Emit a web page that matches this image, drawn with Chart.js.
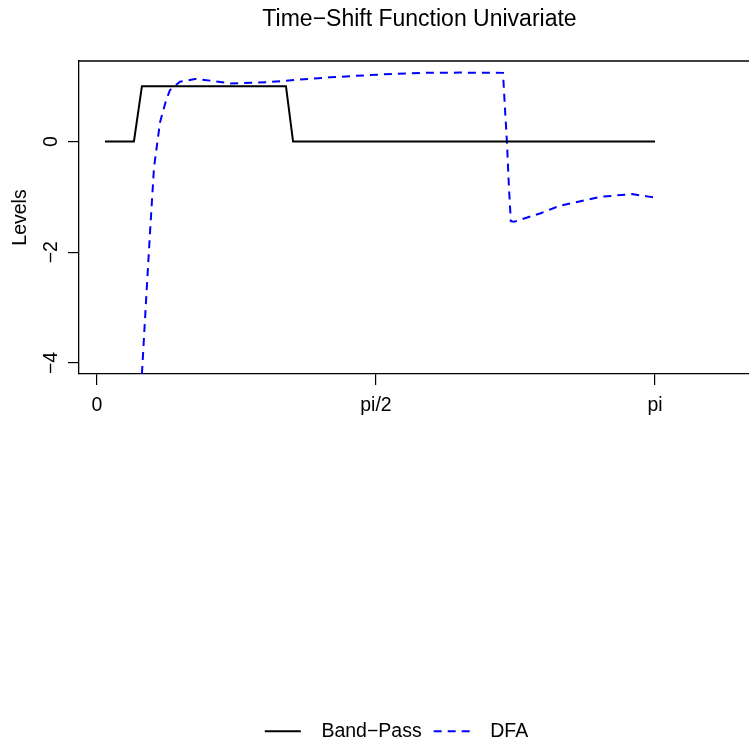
<!DOCTYPE html>
<html>
<head>
<meta charset="utf-8">
<script src="https://cdn.jsdelivr.net/npm/chart.js@4.4.1/dist/chart.umd.min.js"></script>
<style>
  html, body { margin: 0; padding: 0; background: #fff; }
  #wrap { width: 749px; height: 744px; position: relative; }
</style>
</head>
<body>
<div id="wrap"><canvas id="tsChart" width="749" height="744"></canvas></div>
<script>
// frequencies in radians
var bandFreq = [0.045, 0.208, 0.253, 1.064, 1.104, 3.142];
var bandPass = [0, 0, 1, 1, 0, 0];

var dfaFreq = [0.253, 0.276, 0.298, 0.321, 0.355, 0.389, 0.411, 0.467, 0.552, 0.636,
  0.749, 0.861, 0.957, 1.143, 1.312, 1.593, 1.819, 2.044, 2.286, 2.297,
  2.308, 2.319, 2.330, 2.348, 2.494, 2.607, 2.832, 3.012, 3.114, 3.142];
var dfaLevels = [-4.2, -2.89, -1.67, -0.47, 0.35, 0.745, 0.93, 1.08, 1.13, 1.10,
  1.05, 1.06, 1.07, 1.12, 1.16, 1.21, 1.24, 1.245, 1.24, 0.6,
  0, -0.8, -1.44, -1.45, -1.3, -1.16, -1.0, -0.95, -1.0, -1.01];

var xTicks = [0, Math.PI / 2, Math.PI];
var xTickLabels = ["0", "pi/2", "pi"];
var yTicks = [0, -2, -4];

var FONT = "'Liberation Sans', Arial, sans-serif";

function pts(xs, ys) {
  return xs.map(function (x, i) { return { x: x, y: ys[i] }; });
}

// R-style pieces: top border, rotated y labels, main title
var rDecor = {
  id: "rDecor",
  afterDraw: function (chart) {
    var ctx = chart.ctx;
    var area = chart.chartArea;
    var y = chart.scales.y;
    ctx.save();
    ctx.strokeStyle = "#000";
    ctx.lineWidth = 1.3;
    ctx.beginPath();
    ctx.moveTo(area.left, area.top);
    ctx.lineTo(area.right, area.top);
    ctx.stroke();

    ctx.fillStyle = "#000";
    ctx.font = "19.5px " + FONT;
    ctx.textAlign = "center";
    ctx.textBaseline = "middle";
    yTicks.forEach(function (v) {
      var py = y.getPixelForValue(v);
      ctx.save();
      ctx.translate(52, py);
      ctx.rotate(-Math.PI / 2);
      ctx.fillText(v < 0 ? "\u2212" + Math.abs(v) : String(v), 0, 0);
      ctx.restore();
    });

    ctx.save();
    ctx.translate(21, (area.top + area.bottom) / 2);
    ctx.rotate(-Math.PI / 2);
    ctx.fillText("Levels", 0, 0);
    ctx.restore();

    ctx.font = "23px " + FONT;
    ctx.fillText("Time\u2212Shift Function Univariate", 419.5, 20);
    ctx.restore();
  }
};

new Chart(document.getElementById("tsChart"), {
  type: "line",
  data: {
    datasets: [
      {
        label: "Band\u2212Pass",
        data: pts(bandFreq, bandPass),
        borderColor: "#000",
        backgroundColor: "#000",
        borderWidth: 2,
        pointRadius: 0,
        tension: 0,
        pointStyle: "line",
      },
      {
        label: "DFA",
        data: pts(dfaFreq, dfaLevels),
        borderColor: "#0000ff",
        backgroundColor: "#0000ff",
        borderWidth: 2,
        borderDash: [8, 6],
        pointRadius: 0,
        tension: 0,
        pointStyle: "line",
      },
    ],
  },
  options: {
    responsive: false,
    animation: false,
    layout: { padding: { top: 61, left: 44, right: 0, bottom: -7 } },
    scales: {
      x: {
        type: "linear",
        min: -0.1013,
        max: 3.671,
        afterBuildTicks: function (scale) {
          scale.ticks = xTicks.map(function (v) { return { value: v }; });
        },
        afterFit: function (scale) { scale.height = 335.5; },
        ticks: {
          font: { size: 19.5, family: FONT },
          color: "#000",
          padding: 9,
          maxRotation: 0,
          callback: function (v) {
            var i = xTicks.indexOf(v);
            return i >= 0 ? xTickLabels[i] : "";
          },
        },
        grid: { drawOnChartArea: false, drawTicks: true, tickLength: 11, color: "#000", lineWidth: 1.2 },
        border: { display: true, color: "#000", width: 1.3 },
      },
      y: {
        type: "linear",
        min: -4.2,
        max: 1.4545,
        afterBuildTicks: function (scale) {
          scale.ticks = yTicks.map(function (v) { return { value: v }; });
        },
        afterFit: function (scale) { scale.width = 35; },
        ticks: { display: false },
        grid: { drawOnChartArea: false, drawTicks: true, tickLength: 11, color: "#000", lineWidth: 1.2 },
        border: { display: true, color: "#000", width: 1.3 },
      },
    },
    plugins: {
      legend: {
        position: "bottom",
        labels: {
          usePointStyle: true,
          pointStyleWidth: 36,
          padding: 12,
          color: "#000",
          font: { size: 19.5, family: FONT },
          generateLabels: function (chart) {
            var items = Chart.defaults.plugins.legend.labels.generateLabels(chart);
            items.forEach(function (it) {
              var ds = chart.data.datasets[it.datasetIndex];
              it.text = "  " + it.text;
              it.lineDash = ds.borderDash || [];
              it.lineWidth = ds.borderWidth;
              it.strokeStyle = ds.borderColor;
            });
            return items;
          },
        },
      },
      tooltip: { enabled: false },
    },
  },
  plugins: [rDecor],
});
</script>
</body>
</html>
